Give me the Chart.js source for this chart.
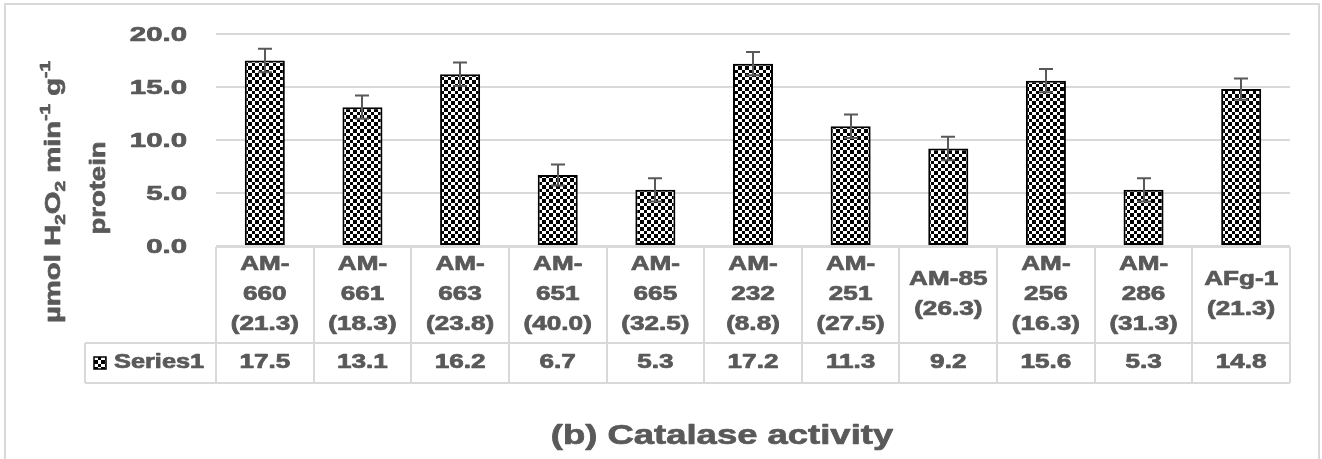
<!DOCTYPE html>
<html>
<head>
<meta charset="utf-8">
<script src="https://cdn.jsdelivr.net/npm/chart.js@4.4.1/dist/chart.umd.min.js"></script>
<style>
  html, body { margin: 0; padding: 0; background: #ffffff; }
  canvas { display: block; }
</style>
</head>
<body>
<canvas id="chart" width="1322" height="459"></canvas>
<script>
// Catalase activity per isolate (value in brackets under each isolate name)
const categoryLines = [
  ["AM-", "660", "(21.3)"],
  ["AM-", "661", "(18.3)"],
  ["AM-", "663", "(23.8)"],
  ["AM-", "651", "(40.0)"],
  ["AM-", "665", "(32.5)"],
  ["AM-", "232", "(8.8)"],
  ["AM-", "251", "(27.5)"],
  ["AM-85", "(26.3)"],
  ["AM-", "256", "(16.3)"],
  ["AM-", "286", "(31.3)"],
  ["AFg-1", "(21.3)"]
];
const seriesName = "Series1";
const values = [17.5, 13.1, 16.2, 6.7, 5.3, 17.2, 11.3, 9.2, 15.6, 5.3, 14.8];
const errors = [1.1, 1.1, 1.1, 1.0, 1.1, 1.1, 1.1, 1.1, 1.1, 1.1, 1.0];
const yTickValues = [0, 5, 10, 15, 20];
const chartTitle = "(b) Catalase activity";

const TEXT = "#595959";
const LINE = "#d9d9d9";
const FONT = "'Liberation Sans', Arial, sans-serif";

const canvas = document.getElementById("chart");
const ctx0 = canvas.getContext("2d");

// checkerboard fill used for the bars and the legend key
function checkerPattern(ctx) {
  const c = document.createElement("canvas");
  c.width = 7; c.height = 7;
  const g = c.getContext("2d");
  g.fillStyle = "#ffffff"; g.fillRect(0, 0, 7, 7);
  g.fillStyle = "#000000";
  g.fillRect(0, 0, 3, 3);
  g.fillRect(3, 3, 4, 4);
  return ctx.createPattern(c, "repeat");
}
const checker = checkerPattern(ctx0);

// heavy, wide bold text: horizontally scaled glyphs with a thin outline
function paintText(ctx, str, x, y) {
  ctx.lineWidth = 0.7;
  ctx.lineJoin = "round";
  ctx.strokeStyle = TEXT;
  ctx.strokeText(str, x, y);
  ctx.fillText(str, x, y);
}

function wideText(ctx, str, x, y, size, k, align, angle) {
  ctx.save();
  ctx.translate(x, y);
  if (angle) ctx.rotate(angle);
  ctx.scale(k, 1);
  ctx.font = "bold " + size + "px " + FONT;
  ctx.fillStyle = TEXT;
  ctx.textAlign = align || "center";
  ctx.textBaseline = "middle";
  paintText(ctx, str, 0, 0);
  ctx.restore();
}

// text runs with sub/superscripts, measured in scaled units
function runsWidth(ctx, runs, size) {
  let w = 0;
  runs.forEach(r => {
    const s = r.pos ? size * 0.65 : size;
    ctx.font = "bold " + s + "px " + FONT;
    w += ctx.measureText(r.t).width;
  });
  return w;
}

const framePlugin = {
  id: "frame",
  beforeDraw(chart) {
    const ctx = chart.ctx;
    ctx.save();
    ctx.fillStyle = "#ffffff";
    ctx.fillRect(0, 0, chart.width, chart.height);
    ctx.strokeStyle = LINE;
    ctx.lineWidth = 2;
    ctx.strokeRect(5, 4, 1314, 480);
    ctx.restore();
  }
};

const errorBarPlugin = {
  id: "errorBars",
  afterDatasetsDraw(chart) {
    const ctx = chart.ctx;
    const y = chart.scales.y;
    const meta = chart.getDatasetMeta(0);
    ctx.save();
    ctx.strokeStyle = "#595959";
    ctx.lineWidth = 2;
    meta.data.forEach((bar, i) => {
      const top = y.getPixelForValue(values[i] + errors[i]);
      const bot = y.getPixelForValue(values[i] - errors[i]);
      const x = Math.round(bar.x);
      ctx.beginPath();
      ctx.moveTo(x, top); ctx.lineTo(x, bot);
      ctx.moveTo(x - 7, top); ctx.lineTo(x + 7, top);
      ctx.moveTo(x - 7, bot); ctx.lineTo(x + 7, bot);
      ctx.stroke();
    });
    ctx.restore();
  }
};

const tablePlugin = {
  id: "dataTable",
  afterDraw(chart) {
    const ctx = chart.ctx;
    const xs = chart.scales.x;
    const ys = chart.scales.y;
    const area = chart.chartArea;
    const n = categoryLines.length;
    const colW = (area.right - area.left) / n;
    const top = Math.round(area.bottom) + 1;
    const mid = top + 96;
    const bot = mid + 40;
    const legendLeft = 85;

    // grid of the data table
    ctx.save();
    ctx.strokeStyle = LINE;
    ctx.lineWidth = 2;
    ctx.beginPath();
    ctx.moveTo(area.left, top); ctx.lineTo(area.right, top);
    ctx.moveTo(legendLeft, mid); ctx.lineTo(area.right, mid);
    ctx.moveTo(legendLeft, bot); ctx.lineTo(area.right, bot);
    for (let i = 0; i <= n; i++) {
      const x = Math.round(area.left + i * colW);
      ctx.moveTo(x, top); ctx.lineTo(x, bot);
    }
    ctx.moveTo(legendLeft, mid); ctx.lineTo(legendLeft, bot);
    ctx.stroke();
    ctx.restore();

    // category labels and values
    const headCenter = (top + mid) / 2;
    const rowCenter = (mid + bot) / 2;
    categoryLines.forEach((lines, i) => {
      const cx = xs.getPixelForValue(i);
      const start = headCenter - (lines.length - 1) * 15;
      lines.forEach((t, j) => wideText(ctx, t, cx, start + j * 30, 19.5, 1.34, "center"));
      wideText(ctx, values[i].toFixed(1), cx, rowCenter, 19.5, 1.34, "center");
    });

    // legend key and series name
    ctx.save();
    ctx.fillStyle = checker;
    ctx.fillRect(94, rowCenter - 6, 12, 12);
    ctx.strokeStyle = "#000";
    ctx.lineWidth = 1.5;
    ctx.strokeRect(94, rowCenter - 6, 12, 12);
    ctx.restore();
    wideText(ctx, seriesName, 114, rowCenter, 19.5, 1.3, "left");

    // y tick labels
    yTickValues.forEach(v => {
      wideText(ctx, v.toFixed(1), 187, ys.getPixelForValue(v) + 1, 21, 1.4, "right");
    });

    // y axis title, two lines, rotated
    const runs = [
      { t: "µmol H" }, { t: "2", pos: "sub" }, { t: "O" }, { t: "2", pos: "sub" },
      { t: " min" }, { t: "-1", pos: "sup" }, { t: " g" }, { t: "-1", pos: "sup" }
    ];
    const size = 22, k = 1.33;
    ctx.save();
    ctx.translate(54, 192);
    ctx.rotate(-Math.PI / 2);
    ctx.scale(k, 1);
    ctx.fillStyle = TEXT;
    ctx.textBaseline = "middle";
    ctx.textAlign = "left";
    let x = -runsWidth(ctx, runs, size) / 2;
    runs.forEach(r => {
      const s = r.pos ? size * 0.65 : size;
      ctx.font = "bold " + s + "px " + FONT;
      const dy = r.pos === "sub" ? size * 0.3 : (r.pos === "sup" ? -size * 0.35 : 0);
      paintText(ctx, r.t, x, dy);
      x += ctx.measureText(r.t).width;
    });
    ctx.restore();
    wideText(ctx, "protein", 99, 188, 22, 1.25, "center", -Math.PI / 2);

    // chart title
    wideText(ctx, chartTitle, 722, 437, 27, 1.35, "center");
  }
};

new Chart(canvas, {
  type: "bar",
  data: {
    labels: categoryLines.map(l => l.join(" ")),
    datasets: [{
      label: seriesName,
      data: values,
      backgroundColor: checker,
      borderColor: "#000000",
      borderWidth: 2,
      borderSkipped: false,
      barPercentage: 0.41,
      categoryPercentage: 1.0
    }]
  },
  options: {
    responsive: false,
    devicePixelRatio: 1,
    animation: false,
    layout: { padding: { left: 216, right: 32, top: 34, bottom: 213 } },
    plugins: { legend: { display: false }, title: { display: false }, tooltip: { enabled: false } },
    scales: {
      x: {
        grid: { display: false },
        border: { display: false },
        ticks: { display: false },
        afterFit: s => { s.height = 0; }
      },
      y: {
        min: 0, max: 20,
        ticks: { display: false, stepSize: 5 },
        grid: { color: LINE, lineWidth: 2, drawTicks: false },
        border: { display: false },
        afterFit: s => { s.width = 0; }
      }
    }
  },
  plugins: [framePlugin, errorBarPlugin, tablePlugin]
});
</script>
</body>
</html>
